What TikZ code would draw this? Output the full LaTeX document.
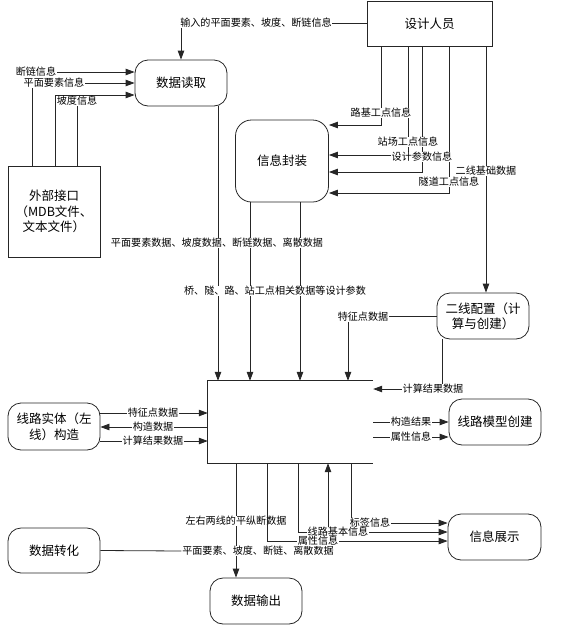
\documentclass[tikz,border=0pt]{standalone}
\usepackage{fontspec}
\setmainfont{Noto Sans CJK SC}
\usetikzlibrary{arrows.meta}
\tikzset{
  box/.style={draw=black!85,line width=0.8pt,minimum width=92pt,minimum height=46pt,inner sep=1pt,align=center,font=\fontsize{12.5}{15.5}\selectfont},
  rbox/.style={box,rounded corners=13pt},
  lab/.style={fill=white,inner sep=0.6pt,font=\fontsize{10.1}{11}\selectfont},
  ln/.style={draw=black!85,line width=0.8pt},
  arr/.style={ln,-{Triangle[length=9pt,width=6.5pt]}},
}
\begin{document}
\begin{tikzpicture}[x=1pt,y=-1pt]
\useasboundingbox (0,0) rectangle (571,635);
% boxes
\node[box,minimum width=125pt,minimum height=45pt] (sj) at (429.5,23.5) {设计人员};
\node[rbox] (dr) at (181,83) {数据读取};
\node[box,minimum height=91pt] (wb) at (54,211.5) {外部接口\\（MDB文件、\\文本文件）};
\node[rbox,minimum width=93pt,minimum height=82pt,rounded corners=16pt] (xx) at (282,161) {信息封装};
\node[rbox] (ex) at (483,316) {二线配置（计\\算与创建）};
\node[minimum width=165pt,minimum height=82pt,inner sep=0pt] (cb) at (290.5,422) {};
\draw[ln] (cb.north east) -- (cb.north west) -- (cb.south west) -- (cb.south east);
\node[rbox,minimum height=47pt] (sl) at (54,426.5) {线路实体（左\\线）构造};
\node[rbox] (mx) at (495,422) {线路模型创建};
\node[rbox,minimum width=93pt] (zs) at (494.5,537) {信息展示};
\node[rbox,minimum height=45pt] (zh) at (54,550.5) {数据转化};
\node[rbox] (sc) at (256,601) {数据输出};

% top input
\draw[arr] (sj.west) -| (dr.north);
\node[lab] (t1) at (256,23) {输入的平面要素、坡度、断链信息};

% left inputs to 数据读取
\node[lab] (l1) at (36,72) {断链信息};
\draw[arr] (l1.east) -- (dr.west |- l1);
\draw[arr] (32,0 |- wb.north) |- (dr.west |- 0,83);
\node[lab] (l2) at (54,83) {平面要素信息};
\draw[arr] (55,0 |- wb.north) |- (dr.west |- 0,95);
\draw[ln] (77,0 |- wb.north) -- (77,101);
\node[lab] (l3) at (77,101) {坡度信息};

% 设计人员 to 信息封装
\draw[arr] (381,0 |- sj.south) |- (xx.east |- 0,125);
\draw[arr] (408,0 |- sj.south) |- (xx.east |- 0,155);
\draw[arr] (422,0 |- sj.south) |- (xx.east |- 0,172);
\draw[arr] (449,0 |- sj.south) |- (xx.east |- 0,193);
\draw[arr] (486,0 |- sj.south) -- (486,0 |- ex.north);
\node[lab] at (381,113) {路基工点信息};
\node[lab] at (408,142) {站场工点信息};
\node[lab] at (422,157) {设计参数信息};
\node[lab] at (486,171) {二线基础数据};
\node[lab] at (449,182) {隧道工点信息};

% into central block from top
\draw[arr] (218,0 |- dr.south) -- (218,0 |- cb.north);
\draw[arr] (250,0 |- xx.south) -- (250,0 |- cb.north);
\draw[arr] (300,0 |- xx.south) -- (300,0 |- cb.north);
\node[lab] at (217,243) {平面要素数据、坡度数据、断链数据、离散数据};
\node[lab] at (275,291) {桥、隧、路、站工点相关数据等设计参数};
\draw[arr] (ex.west) -| (348,0 |- cb.north);
\node[lab] at (363,317) {特征点数据};
\draw[arr] (442,0 |- ex.south) |- (cb.east |- 0,389);
\node[lab] at (433,389) {计算结果数据};

% left block
\draw[arr] (sl.east |- 0,413) -- (cb.west |- 0,413);
\draw[arr] (cb.west |- 0,427) -- (sl.east |- 0,427);
\draw[arr] (sl.east |- 0,441) -- (cb.west |- 0,441);
\node[lab] at (153,413) {特征点数据};
\node[lab] at (153,427) {构造数据};
\node[lab] at (153,441) {计算结果数据};

% right block
\draw[arr] (cb.east |- 0,422) -- (mx.west |- 0,422);
\draw[arr] (cb.east |- 0,437) -- (mx.west |- 0,437);
\node[lab] at (411,422) {构造结果};
\node[lab] at (411,437) {属性信息};

% bottom
\draw[arr] (236,0 |- cb.south) -- (236,0 |- sc.north);
\node[lab] at (236,521) {左右两线的平纵断数据};
\node[lab] (b1) at (258,551) {平面要素、坡度、断链、离散数据};
\draw[ln] (zh.east) -- (b1.west);
\draw[arr] (267,0 |- cb.south) |- (zs.west |- 0,541);
\draw[arr] (298,0 |- cb.south) |- (zs.west |- 0,532);
\coordinate (up) at (328,527);
\draw[arr] (up) -- (328,0 |- cb.south);
\draw[arr] (351,0 |- cb.south) |- (zs.west |- 0,523);
\node[lab] at (370,523) {标签信息};
\node[lab] at (338,532) {线路基本信息};
\node[lab] at (318,541) {属性信息};
\end{tikzpicture}
\end{document}
